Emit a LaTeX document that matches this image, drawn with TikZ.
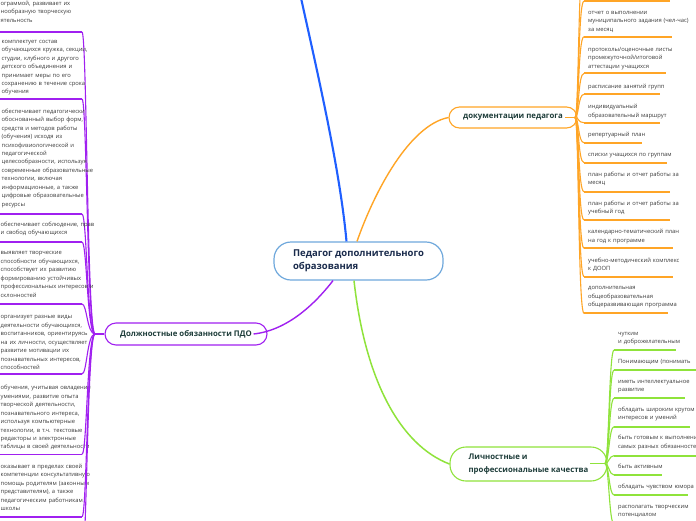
\documentclass[tikz,border=0pt]{standalone}
\usepackage{fontspec}
\setmainfont{Open Sans}
\definecolor{pur}{HTML}{A020F0}
\definecolor{org}{HTML}{FFA526}
\definecolor{grn}{HTML}{8FE33B}
\definecolor{blu}{HTML}{1F5FFF}
\definecolor{cbd}{HTML}{6FA8DC}
\definecolor{ntext}{HTML}{1E3D3A}
\definecolor{ctext}{HTML}{1A2B4C}
\definecolor{ltext}{HTML}{3C3C3C}
\tikzset{
  leaf/.style={anchor=base west, inner sep=0pt, text width=150pt, align=left,
    font=\fontsize{5.8}{8.45}\selectfont, text=ltext},
  topic/.style={inner sep=0pt, align=left, text=ntext,
    font=\fontsize{7.8}{13}\selectfont\bfseries, line width=1.1pt},
  pul/.style={pur, line width=1.6pt},
  pcon/.style={pur, line width=1.1pt},
  oul/.style={org, line width=1.8pt},
  ocon/.style={org, line width=1.1pt},
  gul/.style={grn, line width=1.8pt},
  gcon/.style={grn, line width=1.1pt},
}
\newcommand{\pleaf}[5]{%
  \node[leaf] (#1) at (#2,#3) {#5};
  \coordinate (#1u) at (-3,#4);
  \coordinate (#1e) at (82,#4);
  \draw[pul] (#1u) -- (#1e);
  \draw[pcon] (pj) .. controls (87,334) and (87,#4) .. (#1e);
}
\newcommand{\oleaf}[5]{%
  \node[leaf] (#1) at (588,#2) {#5};
  \coordinate (#1u) at (584,#3);
  \coordinate (#1e) at (#4,#3);
  \draw[oul] (#1u) -- (#1e);
  \draw[ocon] (oj) .. controls (579,117.5) and (578,#3) .. (#1u);
}
\newcommand{\gleaf}[5]{%
  \node[leaf] (#1) at (618,#2) {#5};
  \coordinate (#1u) at (614,#3);
  \coordinate (#1e) at (#4,#3);
  \draw[gul] (#1u) -- (#1e);
  \draw[gcon] (gj) .. controls (609,463.5) and (609,#3) .. (#1u);
}
\begin{document}
\begin{tikzpicture}[x=1pt,y=-1pt]
\useasboundingbox (0,0) rectangle (696,520);
\fill[white] (0,0) rectangle (696,520);

% main nodes
\node[draw=cbd, line width=1.2pt, rounded corners=17pt, minimum width=169pt,
  minimum height=38pt, inner sep=0pt, align=left, text=ctext,
  font=\fontsize{9.5}{13}\selectfont\bfseries] (root) at (358.5,261)
  {Педагог дополнительного\\образования};
\node[topic, draw=pur, rounded corners=11pt, minimum width=162pt, minimum height=22pt]
  (duty) at (186,334) {Должностные обязанности ПДО};
\node[topic, draw=org, rounded corners=10.5pt, minimum width=128pt, minimum height=21pt]
  (doc) at (513,117.5) {документации педагога};
\node[topic, draw=grn, rounded corners=16pt, minimum width=157pt, minimum height=34pt]
  (qual) at (528.5,464) {Личностные и\\профессиональные качества};

% branch coordinates
\coordinate (bs) at ([xshift=-12pt]root.north);
\coordinate (os) at ([xshift=-1.5pt]root.north);
\coordinate (ps) at ([xshift=-25.5pt]root.south);
\coordinate (gs) at ([xshift=-4.5pt]root.south);
\coordinate (btop) at (301,-2);
\coordinate (pend) at ([xshift=-14pt]duty.east);
\coordinate (pj) at (95,334);
\coordinate (dte) at (565,117.5);
\coordinate (oj) at (575,117.5);
\coordinate (qte) at (590,463.5);
\coordinate (gj) at (605,463.5);

% main branches
\draw[blu, line width=2.1pt] (bs) .. controls (340,170) and (318,75) .. (btop);
\draw[org, line width=1.4pt] (os) .. controls (375,190) and (410,125) .. (doc.west);
\draw[pur, line width=1.4pt] (ps) .. controls (318,300) and (290,330) .. (pend);
\draw[grn, line width=1.5pt] (gs) .. controls (365,380) and (400,445) .. (qual.west);
\draw[pur, line width=1.4pt] (duty.west) -- (pj);
\draw[org, line width=1.4pt] (dte) -- (oj);
\draw[grn, line width=1.5pt] (qte) -- (gj);

% left leaves
\pleaf{l0}{0.5}{5.5}{32}{ограммой, развивает их\\нообразную творческую\\ятельность}
\pleaf{l1}{1.5}{43.2}{99}{комплектует состав\\обучающихся кружка, секции,\\студии, клубного и другого\\детского объединения и\\принимает меры по его\\сохранению в течение срока\\обучения}
\pleaf{l2}{1.5}{113.2}{214}{обеспечивает педагогически\\обоснованный выбор форм,\\средств и методов работы\\(обучения) исходя из\\психофизиологической и\\педагогической\\целесообразности, используя\\современные образовательные\\технологии, включая\\информационные, а также\\цифровые образовательные\\ресурсы}
\pleaf{l3}{0.5}{226.5}{242}{обеспечивает соблюдение, прав\\и свобод обучающихся}
\pleaf{l4}{0.5}{254.8}{304}{выявляет творческие\\способности обучающихся,\\способствует их развитию\\формированию устойчивых\\профессиональных интересов и\\склонностей}
\pleaf{l5}{0.5}{318.8}{374}{организует разные виды\\деятельности обучающихся,\\воспитанников, ориентируясь\\на их личности, осуществляет\\развитие мотивации их\\познавательных интересов,\\способностей}
\pleaf{l6}{0.5}{389.8}{454.3}{обучения, учитывая овладение\\умениями, развитие опыта\\творческой деятельности,\\познавательного интереса,\\используя компьютерные\\технологии, в т.ч. текстовые\\редакторы и электронные\\таблицы в своей деятельности}
\pleaf{l7}{0.5}{468.2}{516.7}{оказывает в пределах своей\\компетенции консультативную\\помощь родителям (законным\\представителям), а также\\педагогическим работникам\\школы}
\coordinate (l8e) at (82,560);
\draw[pcon] (pj) .. controls (87,334) and (87,560) .. (l8e);

% orange leaves
\coordinate (r0u) at (584,1);
\coordinate (r0e) at (670,1);
\draw[oul] (r0u) -- (r0e);
\draw[ocon] (oj) .. controls (579,117.5) and (578,1) .. (r0u);
\coordinate (rtop) at (584,-40);
\draw[ocon] (oj) .. controls (579,117.5) and (578,-40) .. (rtop);
\oleaf{r1}{14.2}{36.7}{672}{отчет о выполнении\\муниципального задания (чел-час)\\за месяц}
\oleaf{r2}{51.5}{73.3}{666}{протоколы/оценочные листы\\промежуточной/итоговой\\аттестации учащихся}
\oleaf{r3}{88.8}{94.3}{660}{расписание занятий групп}
\oleaf{r4}{108.8}{122.7}{660}{индивидуальный\\образовательный маршрут}
\oleaf{r5}{136.5}{142.7}{642}{репертуарный план}
\oleaf{r6}{156.5}{162.7}{667}{списки учащихся по группам}
\oleaf{r7}{176.5}{191.7}{670}{план работы и отчет работы за\\месяц}
\oleaf{r8}{205.5}{220}{670}{план работы и отчет работы за\\учебный год}
\oleaf{r9}{233.8}{248.3}{673}{календарно-тематический план\\на год к программе}
\oleaf{r10}{262.5}{276.7}{673}{учебно-методический комплекс\\ к ДООП}
\oleaf{r11}{289.8}{313.3}{668}{дополнительная\\общеобразовательная\\общеразвивающая программа}

% green leaves
\gleaf{g0}{335.5}{350}{676}{чутким\\и доброжелательным}
\gleaf{g1}{363.8}{370}{700}{Понимающим (понимать}
\gleaf{g2}{383.2}{398.3}{685}{иметь интеллектуальное\\развитие}
\gleaf{g3}{411.5}{426.7}{690}{обладать широким кругом\\интересов и умений}
\gleaf{g4}{439.8}{455.7}{700}{быть готовым к выполнению\\самых разных обязанностей}
\gleaf{g5}{468.2}{475}{662}{быть активным}
\gleaf{g6}{488.8}{495}{688}{обладать чувством юмора}
\gleaf{g7}{508.2}{524}{690}{располагать творческим\\потенциалом}
\end{tikzpicture}
\end{document}
